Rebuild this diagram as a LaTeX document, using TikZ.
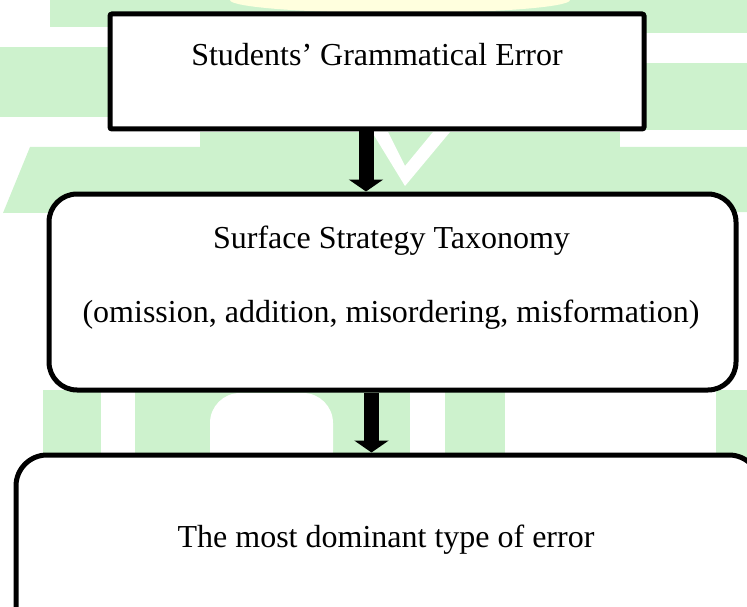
\documentclass[tikz,border=0pt]{standalone}
\usepackage{fontspec}
\setmainfont{Liberation Serif}
\usetikzlibrary{arrows.meta}
\definecolor{wm}{RGB}{205,242,205}
\definecolor{wmy}{RGB}{255,255,222}
\begin{document}
\begin{tikzpicture}[x=1pt,y=-1pt,
  box/.style={draw, line width=5pt, fill=white, inner sep=0pt},
  lbl/.style={anchor=base, font=\fontsize{32}{38}\selectfont, inner sep=0pt},
  bigarrow/.style={line width=15pt, -{Triangle[width=34pt,length=12pt]}}]
\useasboundingbox (0,0) rectangle (747,607);
\clip (0,0) rectangle (747,607);
% watermark
\fill[wm] (50,0) rectangle (747,27);
\fill[wm] (646,27) rectangle (747,33);
\fill[wmy] (400,0) ellipse [x radius=170pt, y radius=13pt];
\fill[wm] (0,47) rectangle (110,117);
\fill[wm] (646,63) rectangle (747,130);
\fill[wm] (30,147) -- (747,147) -- (747,212) -- (3,213) -- cycle;
\fill[wm] (200,132) rectangle (620,147);
\fill[white] (372,132) -- (388,132) -- (405,166) -- (433,132) -- (450,132) -- (405,186) -- cycle;
\fill[wm] (43,390) rectangle (101,460);
\fill[wm] (135,390) rectangle (410,460);
\fill[white, rounded corners=30pt] (210,393) rectangle (333,480);
\fill[wm] (445,390) rectangle (505,460);
\fill[wm] (716,390) rectangle (747,460);
% boxes
\node[box, rounded corners=2pt, minimum width=534pt, minimum height=115pt] (b1) at (377,71.5) {};
\node[box, rounded corners=28pt, minimum width=687pt, minimum height=196pt] (b2) at (392.5,292) {};
\node[box, rounded corners=31pt, minimum width=744pt, minimum height=185pt] (b3) at (388,547.5) {};
% texts
\node[lbl] (t1) at (377,66) {Students’ Grammatical Error};
\node[lbl] (t2a) at (391.5,248) {Surface Strategy Taxonomy};
\node[lbl] (t2b) at (391,322) {(omission, addition, misordering, misformation)};
\node[lbl] (t3) at (386,547) {The most dominant type of error};
% arrows
\draw[bigarrow] ([xshift=-11pt]b1.south) -- ([xshift=-11pt]b1.south |- b2.north);
\draw[bigarrow] ([xshift=-21pt]b2.south) -- ([xshift=-21pt]b2.south |- b3.north);
\end{tikzpicture}
\end{document}
